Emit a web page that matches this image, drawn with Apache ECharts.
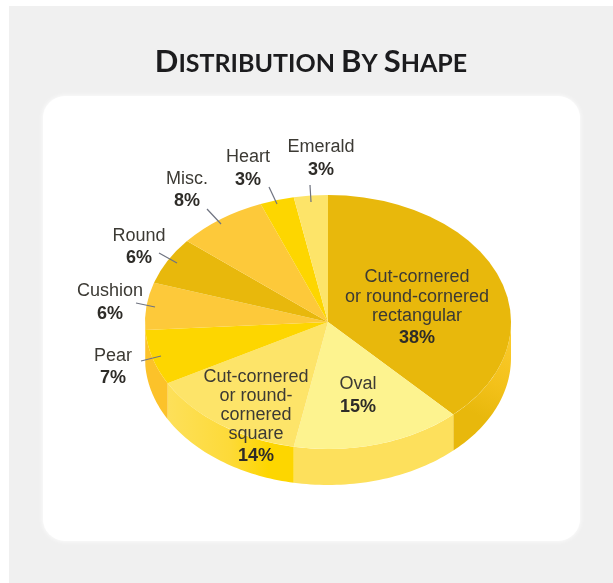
<!DOCTYPE html>
<html>
<head>
<meta charset="utf-8">
<style>html,body{margin:0;padding:0;background:#fff}#c{width:613px;height:583px}</style>
<script src="https://cdn.jsdelivr.net/npm/echarts@6/dist/echarts.min.js"></script>
</head>
<body>
<div id="c"></div>
<script>
var shapeNames = [
  'Cut-cornered\nor round-cornered\nrectangular', 'Oval',
  'Cut-cornered\nor round-\ncornered\nsquare', 'Pear', 'Cushion', 'Round', 'Misc.', 'Heart', 'Emerald'
];
var shapeValues = [38, 15, 14, 7, 6, 6, 8, 3, 3];
var topColors = ['#e8b80c', '#fdf38f', '#fde469', '#fdd600', '#fdc93a', '#e8b80c', '#fdc93a', '#fdd600', '#fde469'];
var sideColors = ['#eaba0e', '#fde05c', '#fdd600', '#fcc22a', '#fcc22a', '#e8b80c', '#fdc93a', '#fdd600', '#fde469'];
// label layout: centre x, centre y of each text line (last is the percentage)
var labelX = [417, 358, 256, 113, 110, 139, 187, 248, 321];
var labelY = [[277, 297, 316, 338], [384, 407], [377, 396, 415, 434, 456], [356, 378], [291, 314], [236, 258], [179, 201], [157, 180], [147, 170]];
var leaders = [null, null, null, [141, 361, 161, 356], [136, 303, 155, 307], [159, 253, 177, 263], [207, 209, 221, 224], [269, 187, 277, 204], [310, 185, 311, 202]];

var CX = 328, CY = 322, RX = 183, RY = 127, DEPTH = 36;
var TOTAL = shapeValues.reduce(function (a, b) { return a + b; }, 0);
var rows = [], acc = 0;
shapeValues.forEach(function (v, i) { rows.push([i, acc, acc + v]); acc += v; });

function pt(clockDeg, dy) {
  var a = clockDeg * Math.PI / 180;
  return [CX + RX * Math.sin(a), CY - RY * Math.cos(a) + dy];
}
function renderSide(params, api) {
  var i = api.value(0);
  var s = Math.max(api.value(1) / TOTAL * 360, 90), e = Math.min(api.value(2) / TOTAL * 360, 270);
  if (e <= s) return { type: 'group', children: [] };
  var up = [], low = [];
  for (var k = 0; k <= 40; k++) {
    var d = s + (e - s) * k / 40;
    up.push(pt(d, 0)); low.unshift(pt(d, DEPTH));
  }
  var fill = sideColors[i];
  if (i === 0) fill = new echarts.graphic.LinearGradient(1, 0, 0, 1, [
    { offset: 0, color: '#fdcd30' }, { offset: 0.45, color: '#f3c11a' }, { offset: 0.7, color: '#e8b80c' }, { offset: 1, color: '#e8b80c' }
  ]);
  if (i === 2) fill = new echarts.graphic.LinearGradient(0, 0, 1, 0, [
    { offset: 0, color: '#fde05a' }, { offset: 0.5, color: '#fdda38' }, { offset: 0.8, color: '#fdd600' }, { offset: 1, color: '#fdd600' }
  ]);
  return { type: 'polygon', shape: { points: up.concat(low) }, style: { fill: fill, stroke: null } };
}
function renderTop(params, api) {
  var i = api.value(0);
  var s = api.value(1) / TOTAL * 2 * Math.PI - Math.PI / 2, e = api.value(2) / TOTAL * 2 * Math.PI - Math.PI / 2;
  return {
    type: 'sector', x: CX, y: CY, scaleY: RY / RX,
    shape: { cx: 0, cy: 0, r0: 0, r: RX, startAngle: s, endAngle: e, clockwise: true },
    style: { fill: topColors[i], stroke: null }
  };
}
function renderLabel(params, api) {
  var i = api.value(0), kids = [];
  var lines = shapeNames[i].split('\n');
  lines.forEach(function (t, k) {
    kids.push({ type: 'text', x: labelX[i], y: labelY[i][k], style: {
      text: t, align: 'center', verticalAlign: 'middle', fill: '#3c3a34',
      font: '18px "Liberation Sans", Arial, sans-serif' } });
  });
  kids.push({ type: 'text', x: labelX[i], y: labelY[i][lines.length], style: {
    text: shapeValues[i] + '%', align: 'center', verticalAlign: 'middle', fill: '#2e2c28',
    font: 'bold 18px "Liberation Sans", Arial, sans-serif' } });
  if (leaders[i]) kids.push({ type: 'line',
    shape: { x1: leaders[i][0], y1: leaders[i][1], x2: leaders[i][2], y2: leaders[i][3] },
    style: { stroke: '#6f7380', lineWidth: 1.2 } });
  return { type: 'group', children: kids };
}
var chart = echarts.init(document.getElementById('c'), null, { renderer: 'canvas' });
chart.setOption({
  animation: false,
  backgroundColor: '#ffffff',
  title: {
    left: 306, textAlign: 'center', top: 41,
    text: '{a|D}{b|ISTRIBUTION}{b| }{a|B}{b|Y}{b| }{a|S}{b|HAPE}',
    textStyle: { rich: {
      a: { fontFamily: 'Lato', fontWeight: 'bold', fontSize: 31, color: '#1c1c1e', verticalAlign: 'bottom' },
      b: { fontFamily: 'Lato', fontWeight: 'bold', fontSize: 25, color: '#1c1c1e', verticalAlign: 'bottom', padding: [0, 0, 1, 0] }
    } }
  },
  graphic: [
    { type: 'rect', z: -10, shape: { x: 9, y: 6, width: 604, height: 577 }, style: { fill: '#f0f0f0' } },
    { type: 'rect', z: -9, shape: { x: 43, y: 96, width: 537, height: 445, r: 22 },
      style: { fill: '#ffffff', shadowBlur: 5, shadowColor: '#ffffff' } }
  ],
  series: [
    { type: 'custom', coordinateSystem: 'none', silent: true, z: 1, data: rows, renderItem: renderSide },
    { type: 'custom', coordinateSystem: 'none', silent: true, z: 2, data: rows, renderItem: renderTop },
    { type: 'custom', coordinateSystem: 'none', silent: true, z: 3, data: rows, renderItem: renderLabel }
  ]
});
</script>
</body>
</html>
